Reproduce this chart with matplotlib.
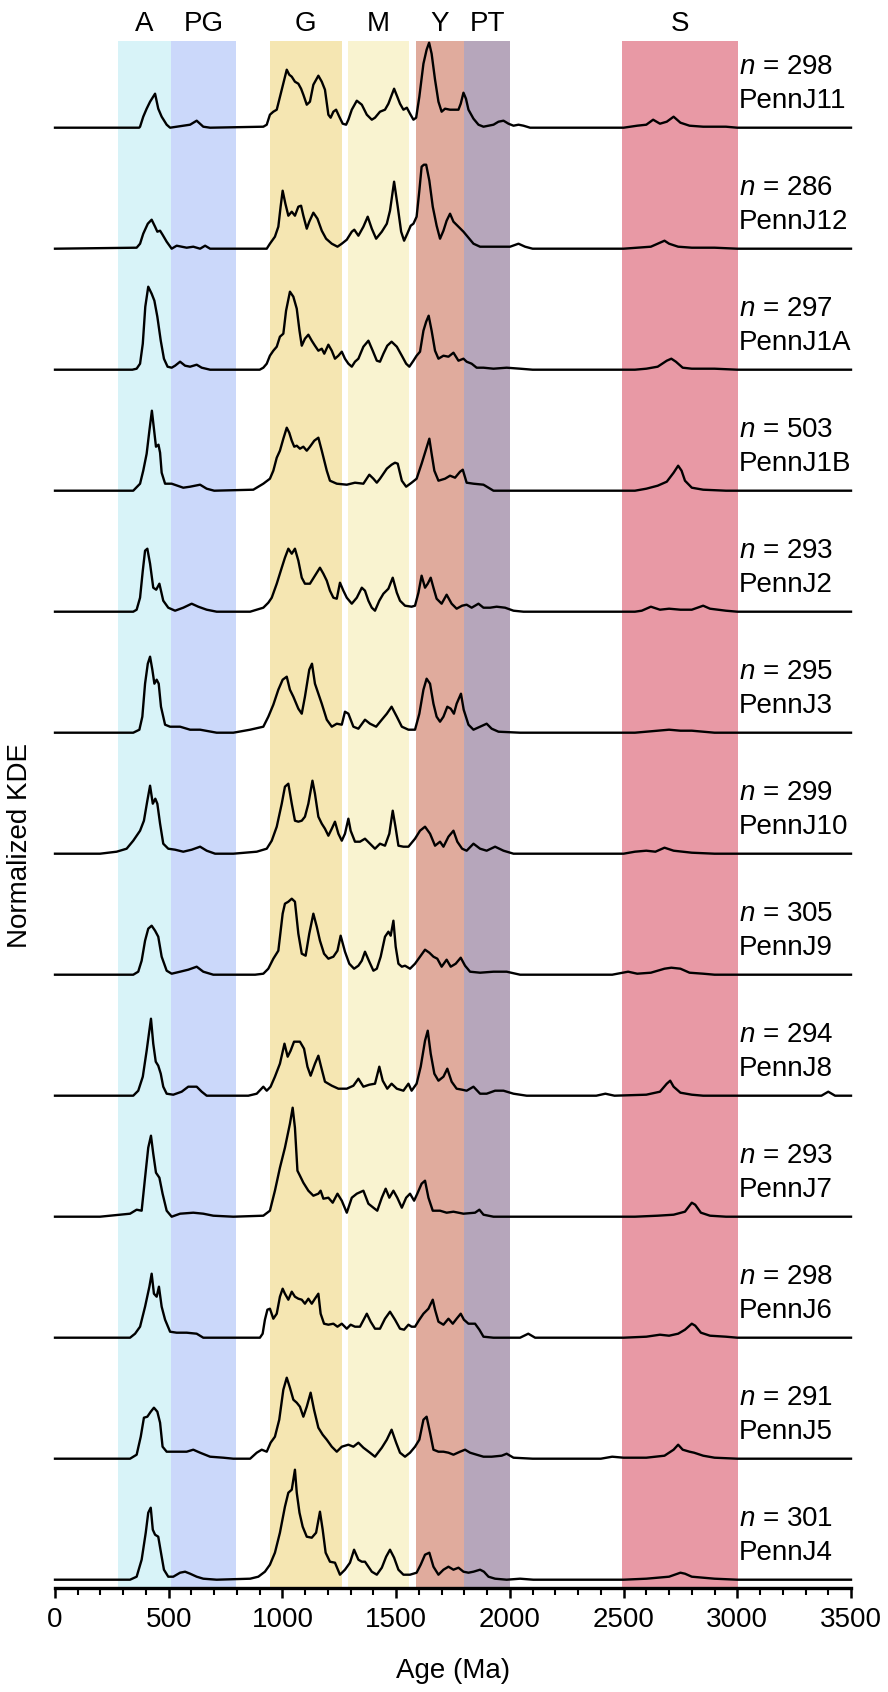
import matplotlib
matplotlib.use("Agg")
import matplotlib.pyplot as plt
from matplotlib.ticker import MultipleLocator

plt.rcParams['font.family'] = ['Liberation Sans', 'DejaVu Sans']
plt.rcParams['mathtext.fontset'] = 'custom'
plt.rcParams['mathtext.it'] = 'Liberation Sans:italic'
plt.rcParams['mathtext.rm'] = 'Liberation Sans'

# ---------------- data (age in Ma, normalized KDE height) ----------------
J11 = [(0,0),(370,0),(374,1),(388,11),(403,19),(418,26),(440,34),(454,19),(469,11),(491,3),(506,0),(594,3),(623,7),(652,1),(682,0),
       (916,1),(931,3),(945,13),(960,16),(975,18),(997,38),(1019,58),(1030,53),(1041,51),(1055,46),(1070,44),(1082,39),(1092,33),(1107,23),
       (1121,26),(1136,43),(1158,52),(1173,46),(1187,38),(1202,13),(1212,10),(1224,16),(1236,18),(1250,11),(1265,4),(1280,3),(1290,8),
       (1305,18),(1327,27),(1349,23),(1371,13),(1393,8),(1407,10),(1429,16),(1451,18),(1466,24),(1491,39),(1505,31),(1517,24),(1532,18),
       (1547,20),(1561,14),(1576,8),(1588,10),(1602,31),(1620,64),(1634,78),(1645,85),(1656,74),(1671,48),(1686,26),(1700,16),(1715,19),
       (1737,18),(1759,18),(1774,18),(1784,24),(1796,35),(1807,29),(1818,18),(1840,9),(1862,3),(1884,1),(1906,2),(1928,3),(1950,6),
       (1972,7),(1994,4),(2016,2),(2038,3),(2060,2),(2089,0),(2500,0),(2560,2),(2600,3),(2630,8),(2660,4),(2690,6),(2720,11),(2750,5),
       (2790,2),(2850,1),(2950,1),(3000,0),(3500,0)]
J12 = [(0,0),(359,1),(374,5),(388,15),(408,25),(425,29),(440,22),(450,17),(462,18),(473,14),(491,7),(513,0),(535,3),(557,2),(579,1),
       (608,2),(638,0),(660,3),(682,0),(931,0),(945,5),(967,12),(982,22),(992,42),(1001,58),(1013,45),(1026,33),(1041,37),(1055,33),
       (1070,42),(1082,43),(1092,33),(1107,20),(1118,27),(1136,36),(1154,30),(1173,18),(1192,10),(1217,5),(1242,2),(1261,5),(1283,9),
       (1305,17),(1316,19),(1334,13),(1356,22),(1375,32),(1393,20),(1412,10),(1437,17),(1459,25),(1473,38),(1491,67),(1507,42),(1522,17),
       (1535,8),(1549,15),(1564,23),(1576,25),(1590,32),(1602,58),(1612,82),(1622,84),(1632,84),(1646,68),(1661,42),(1678,23),(1693,10),
       (1708,18),(1722,28),(1737,35),(1752,27),(1774,22),(1796,17),(1818,11),(1840,5),(1869,2),(1913,2),(1957,2),(2001,2),(2038,5),
       (2067,2),(2100,0),(2500,0),(2560,1),(2620,2),(2660,6),(2680,8),(2700,5),(2740,2),(2800,1),(2900,1),(3000,0),(3500,0)]
J1A = [(0,0),(340,0),(359,1),(374,6),(386,26),(397,63),(410,83),(425,76),(437,69),(450,53),(465,29),(479,11),(495,3),(513,2),(528,4),
       (550,8),(572,4),(594,3),(623,5),(645,2),(682,0),(900,0),(916,2),(931,6),(945,14),(960,19),(975,23),(989,33),(1004,36),(1016,59),
       (1033,78),(1048,73),(1063,61),(1075,39),(1085,24),(1099,31),(1114,35),(1129,29),(1143,24),(1158,19),(1173,21),(1184,16),(1202,25),
       (1217,19),(1231,11),(1246,14),(1261,18),(1275,11),(1290,6),(1305,3),(1319,8),(1334,11),(1356,23),(1378,29),(1397,19),(1415,9),
       (1429,8),(1444,16),(1461,24),(1480,28),(1503,23),(1525,14),(1544,6),(1558,3),(1576,9),(1590,14),(1605,18),(1620,39),(1632,48),
       (1643,54),(1656,39),(1671,19),(1686,11),(1708,14),(1730,13),(1752,17),(1774,9),(1796,11),(1810,8),(1832,6),(1854,2),(1884,2),
       (1928,1),(1986,2),(2045,1),(2100,0),(2550,0),(2600,1),(2650,3),(2690,9),(2710,11),(2730,8),(2760,2),(2800,1),(2900,1),(3000,0),(3500,0)]
J1B = [(0,0),(344,0),(374,7),(388,20),(403,37),(415,60),(426,80),(435,62),(444,44),(455,46),(462,38),(469,18),(484,7),(513,7),(564,3),
       (594,4),(638,6),(667,2),(700,0),(872,1),(916,7),(945,12),(960,20),(975,33),(989,40),(1004,52),(1019,63),(1030,58),(1041,50),
       (1052,44),(1063,45),(1077,42),(1092,44),(1107,40),(1121,44),(1140,50),(1158,53),(1173,40),(1195,20),(1209,10),(1239,7),(1283,6),
       (1319,8),(1356,7),(1382,16),(1400,12),(1415,8),(1429,12),(1459,22),(1480,26),(1495,28),(1507,27),(1525,10),(1544,4),(1568,8),
       (1590,12),(1612,27),(1627,38),(1646,52),(1656,37),(1668,20),(1686,10),(1715,12),(1737,15),(1759,13),(1781,19),(1793,21),(1810,8),
       (1840,7),(1884,6),(1928,0),(2550,0),(2600,2),(2650,5),(2690,9),(2720,18),(2740,25),(2755,20),(2770,10),(2800,3),(2850,1),(2950,0),(3500,0)]
J2 = [(0,0),(344,0),(359,2),(374,14),(386,41),(396,61),(406,63),(418,48),(432,24),(445,22),(459,28),(476,11),(498,4),(528,1),(564,4),
      (601,8),(630,5),(667,2),(711,0),(858,0),(916,4),(938,9),(953,14),(975,28),(997,44),(1011,54),(1026,63),(1041,58),(1055,63),(1070,51),
      (1085,34),(1099,28),(1121,28),(1143,36),(1165,44),(1180,38),(1195,31),(1209,21),(1224,14),(1239,13),(1253,29),(1268,21),(1283,14),
      (1305,8),(1327,14),(1349,24),(1363,21),(1378,11),(1393,4),(1407,1),(1426,11),(1444,18),(1466,23),(1485,34),(1503,19),(1517,11),
      (1539,6),(1568,5),(1583,6),(1598,19),(1612,36),(1627,24),(1639,28),(1652,34),(1664,24),(1678,13),(1700,8),(1722,17),(1744,8),
      (1766,3),(1790,6),(1810,7),(1832,4),(1862,8),(1884,4),(1913,4),(1942,5),(1979,4),(2016,1),(2060,0),(2550,0),(2580,1),(2620,5),
      (2660,2),(2700,3),(2750,2),(2800,2),(2850,6),(2880,3),(2950,1),(3000,0),(3500,0)]
J3 = [(0,0),(344,0),(371,3),(384,16),(396,49),(408,69),(418,76),(428,63),(437,49),(447,53),(456,49),(466,26),(484,8),(506,6),(550,6),
      (594,3),(638,3),(711,0),(784,0),(858,3),(916,6),(938,16),(960,28),(982,43),(1001,53),(1019,56),(1033,43),(1048,36),(1070,24),
      (1085,19),(1099,36),(1118,63),(1130,69),(1143,49),(1158,39),(1173,29),(1195,13),(1217,6),(1239,9),(1261,8),(1275,21),(1290,19),
      (1312,6),(1334,4),(1363,13),(1385,9),(1412,6),(1437,13),(1459,19),(1480,26),(1503,16),(1525,6),(1554,3),(1583,3),(1602,19),
      (1620,43),(1634,54),(1649,49),(1664,29),(1678,16),(1693,11),(1708,16),(1725,26),(1740,24),(1754,19),(1766,29),(1785,39),(1797,23),
      (1818,8),(1840,3),(1869,6),(1898,9),(1920,4),(1950,1),(2045,0),(2550,0),(2600,1),(2650,2),(2700,3),(2750,2),(2800,2),(2850,1),(2900,0),(3500,0)]
J10 = [(0,0),(198,0),(271,2),(315,5),(344,13),(374,23),(391,33),(406,53),(418,68),(430,50),(441,55),(450,50),(462,30),(476,10),(498,5),
       (528,4),(564,2),(601,4),(638,7),(667,3),(704,0),(784,0),(887,2),(931,5),(953,13),(975,27),(997,50),(1011,67),(1026,70),(1041,50),
       (1055,33),(1070,32),(1085,33),(1099,37),(1114,50),(1132,73),(1143,60),(1158,37),(1173,30),(1187,25),(1202,18),(1217,25),(1231,32),
       (1246,20),(1261,13),(1275,20),(1290,35),(1300,23),(1319,12),(1341,12),(1363,15),(1385,10),(1407,5),(1429,10),(1451,8),(1470,20),
       (1485,43),(1497,27),(1510,8),(1532,7),(1554,7),(1583,15),(1605,23),(1627,27),(1649,20),(1671,8),(1693,12),(1708,7),(1730,17),
       (1752,23),(1769,12),(1790,5),(1810,3),(1840,10),(1869,5),(1898,3),(1935,7),(1972,3),(2016,0),(2500,0),(2550,2),(2600,3),(2640,2),
       (2680,6),(2720,3),(2800,1),(2900,0),(3500,0)]
J9 = [(0,0),(344,0),(366,3),(381,14),(396,34),(410,46),(425,49),(440,44),(454,38),(469,18),(491,4),(513,1),(550,3),(586,5),(623,8),
      (652,3),(696,0),(880,0),(916,1),(938,6),(960,16),(982,24),(1001,61),(1011,71),(1026,73),(1041,76),(1055,73),(1070,41),(1085,21),
      (1102,19),(1118,41),(1136,61),(1151,48),(1165,34),(1183,21),(1202,16),(1224,18),(1242,24),(1256,39),(1275,23),(1294,11),(1315,6),
      (1334,9),(1349,14),(1363,23),(1382,13),(1400,4),(1415,6),(1432,18),(1451,38),(1466,43),(1476,39),(1488,54),(1498,28),(1510,11),
      (1525,8),(1539,9),(1561,6),(1583,11),(1605,18),(1627,25),(1646,22),(1664,18),(1681,16),(1700,8),(1722,15),(1740,8),(1762,11),
      (1784,17),(1803,9),(1825,3),(1869,2),(1928,3),(1986,3),(2045,0),(2450,0),(2520,3),(2560,1),(2620,2),(2680,6),(2710,7),(2750,6),
      (2790,2),(2850,1),(2900,0),(3500,0)]
J8 = [(0,0),(344,0),(366,5),(386,19),(403,45),(413,62),(422,77),(432,52),(443,34),(454,30),(465,22),(476,9),(491,2),(520,1),(557,4),
      (586,9),(623,9),(645,4),(667,0),(850,0),(887,2),(916,9),(931,5),(948,9),(967,19),(989,32),(1009,52),(1023,39),(1036,45),(1051,54),
      (1077,54),(1095,47),(1110,29),(1124,20),(1143,32),(1158,40),(1170,29),(1187,14),(1217,10),(1246,7),(1283,7),(1312,10),(1334,17),
      (1356,9),(1382,11),(1407,12),(1426,29),(1441,15),(1461,7),(1480,12),(1503,7),(1532,5),(1554,12),(1568,5),(1590,12),(1608,29),
      (1627,55),(1639,65),(1652,42),(1668,22),(1686,15),(1708,19),(1725,27),(1744,14),(1766,7),(1790,6),(1810,5),(1840,9),(1869,2),
      (1898,2),(1935,5),(1972,5),(2016,2),(2074,0),(2380,0),(2420,2),(2460,0),(2600,1),(2660,4),(2690,12),(2705,15),(2720,9),(2750,3),
      (2800,1),(2850,0),(3370,0),(3400,4),(3430,0),(3500,0)]
J7 = [(0,0),(198,0),(286,2),(330,3),(359,7),(381,6),(396,39),(410,69),(422,81),(432,63),(444,44),(459,39),(473,23),(491,6),(513,0),
      (550,3),(608,4),(652,3),(696,1),(784,0),(916,1),(945,6),(967,26),(989,49),(1011,69),(1033,93),(1045,109),(1055,89),(1066,46),
      (1077,41),(1092,34),(1114,26),(1136,21),(1158,23),(1168,26),(1180,18),(1202,19),(1221,14),(1242,23),(1261,16),(1283,4),(1305,19),
      (1327,23),(1356,26),(1378,13),(1400,9),(1417,6),(1437,19),(1454,28),(1470,19),(1488,26),(1505,19),(1525,9),(1544,19),(1561,23),
      (1579,16),(1593,23),(1612,33),(1627,36),(1642,19),(1661,6),(1693,6),(1722,4),(1752,5),(1796,3),(1847,4),(1866,7),(1884,2),(1928,0),
      (2550,0),(2650,1),(2720,2),(2770,5),(2800,14),(2815,12),(2840,4),(2880,1),(2950,0),(3500,0)]
J6 = [(0,0),(330,0),(352,4),(374,11),(396,31),(415,51),(425,64),(435,44),(447,41),(457,51),(469,31),(484,18),(506,6),(535,5),(579,5),
      (623,4),(652,0),(901,0),(913,4),(923,18),(934,28),(945,29),(960,19),(975,24),(989,41),(1001,49),(1011,44),(1026,38),(1041,46),
      (1055,41),(1070,39),(1085,38),(1099,34),(1114,39),(1129,34),(1143,39),(1158,44),(1168,24),(1183,14),(1202,13),(1224,14),(1242,11),
      (1261,14),(1283,9),(1300,13),(1319,11),(1341,11),(1371,24),(1388,16),(1407,9),(1429,9),(1451,19),(1473,26),(1495,18),(1517,9),
      (1535,8),(1554,13),(1568,11),(1583,11),(1602,18),(1620,24),(1642,29),(1661,38),(1671,28),(1686,16),(1708,13),(1730,19),(1749,14),
      (1766,19),(1784,24),(1798,18),(1818,14),(1847,14),(1866,8),(1884,1),(1928,0),(2045,0),(2081,4),(2111,0),(2500,0),(2600,1),(2660,3),
      (2700,2),(2740,4),(2770,8),(2800,14),(2815,12),(2840,5),(2880,2),(2950,1),(3000,0),(3500,0)]
J5 = [(0,0),(330,0),(359,4),(377,22),(391,41),(406,42),(421,47),(435,51),(450,47),(462,36),(473,12),(491,7),(535,7),(579,7),(608,9),
      (638,6),(682,2),(740,1),(784,0),(858,0),(887,6),(909,9),(931,7),(948,16),(967,22),(986,39),(1004,69),(1019,81),(1033,71),(1048,59),
      (1063,56),(1077,52),(1092,42),(1107,52),(1124,66),(1139,49),(1158,31),(1177,24),(1195,19),(1217,12),(1239,7),(1261,12),(1290,14),
      (1312,12),(1334,16),(1356,11),(1385,6),(1407,2),(1437,11),(1459,19),(1480,29),(1500,16),(1517,6),(1539,2),(1561,6),(1583,12),
      (1602,19),(1620,39),(1634,42),(1649,26),(1664,9),(1686,7),(1708,7),(1730,6),(1752,4),(1781,7),(1803,9),(1825,6),(1854,4),(1884,2),
      (1920,2),(1964,3),(1986,5),(2016,1),(2100,0),(2400,0),(2450,2),(2500,1),(2600,1),(2680,3),(2720,9),(2740,14),(2760,9),(2790,7),
      (2810,6),(2850,3),(2900,1),(3000,0),(3500,0)]
J4 = [(0,0),(330,0),(359,3),(381,20),(399,47),(410,67),(421,72),(430,50),(440,45),(454,43),(466,27),(479,10),(498,3),(520,3),(550,7),
      (572,8),(594,6),(623,3),(652,1),(711,0),(858,1),(894,3),(923,8),(945,15),(967,27),(989,47),(1011,73),(1026,87),(1041,90),(1055,110),
      (1063,87),(1075,67),(1089,53),(1107,43),(1129,42),(1148,47),(1165,68),(1177,50),(1190,27),(1209,18),(1231,17),(1253,5),(1275,10),
      (1297,17),(1315,30),(1334,20),(1349,18),(1363,18),(1378,13),(1393,8),(1415,5),(1437,12),(1456,23),(1473,30),(1491,22),(1510,10),
      (1532,5),(1561,5),(1590,7),(1608,15),(1627,25),(1646,27),(1664,13),(1686,5),(1708,10),(1730,13),(1752,10),(1774,12),(1796,8),
      (1818,7),(1840,8),(1869,10),(1886,8),(1906,3),(1935,1),(1986,0),(2045,1),(2103,0),(2500,0),(2600,1),(2700,3),(2750,7),(2770,6),
      (2800,3),(2850,2),(2900,1),(3000,0),(3500,0)]

samples = [J11, J12, J1A, J1B, J2, J3, J10, J9, J8, J7, J6, J5, J4]
sample_names = ["PennJ11", "PennJ12", "PennJ1A", "PennJ1B", "PennJ2", "PennJ3", "PennJ10",
                "PennJ9", "PennJ8", "PennJ7", "PennJ6", "PennJ5", "PennJ4"]
sample_n = [298, 286, 297, 503, 293, 295, 299, 305, 294, 293, 298, 291, 301]

band_labels = ["A", "PG", "G", "M", "Y", "PT", "S"]
band_start = [275, 510, 945, 1289, 1586, 1800, 2495]
band_end = [510, 797, 1260, 1558, 1800, 2000, 3005]
band_colors = ["#d8f3f8", "#cbd8fa", "#f5e6b2", "#f9f3d0", "#e0ab9d", "#b6a6bb", "#e899a5"]

# ---------------- layout ----------------
W, H = 888, 1692
fig = plt.figure(figsize=(W / 100, H / 100), dpi=100)
ax_left, ax_right = 55, 851
ax_top, ax_bottom = 41, 1588
ax = fig.add_axes([ax_left / W, 1 - ax_bottom / H, (ax_right - ax_left) / W, (ax_bottom - ax_top) / H])
ax.set_xlim(0, 3500)
ax.set_ylim(0, ax_bottom - ax_top)

first_base = ax_bottom - 127.7
row_step = 121.0
FS = 20

for lab, s, e, c in zip(band_labels, band_start, band_end, band_colors):
    ax.axvspan(s, e, color=c, lw=0, zorder=0)
    ax.text((s + e) / 2, ax_bottom - ax_top + 17, lab, ha="center", va="center",
            fontsize=FS, clip_on=False)

for i, (data, name, n) in enumerate(zip(samples, sample_names, sample_n)):
    base = first_base - i * row_step
    ages = [p[0] for p in data]
    vals = [base + p[1] for p in data]
    ax.plot(ages, vals, color="black", lw=1.7, zorder=3, clip_on=False, solid_joinstyle="round")
    ax.text(3008, base + 61, r"$\it{n}$ = %d" % n, ha="left", va="center", fontsize=FS, zorder=4)
    ax.text(3008, base + 27, name, ha="left", va="center", fontsize=FS, zorder=4)

for sp in ["left", "top", "right"]:
    ax.spines[sp].set_visible(False)
ax.spines["bottom"].set_linewidth(2.4)
ax.set_yticks([])
ax.xaxis.set_major_locator(MultipleLocator(500))
ax.xaxis.set_minor_locator(MultipleLocator(100))
ax.tick_params(axis="x", which="major", length=7, width=1.8, labelsize=FS, pad=7)
ax.tick_params(axis="x", which="minor", length=5, width=1.5)
ax.set_xlabel("Age (Ma)", fontsize=FS, labelpad=18)
fig.text(20 / W, 1 - 845 / H, "Normalized KDE", rotation=90, ha="center", va="center", fontsize=FS)

fig.savefig("out.png", dpi=100)
